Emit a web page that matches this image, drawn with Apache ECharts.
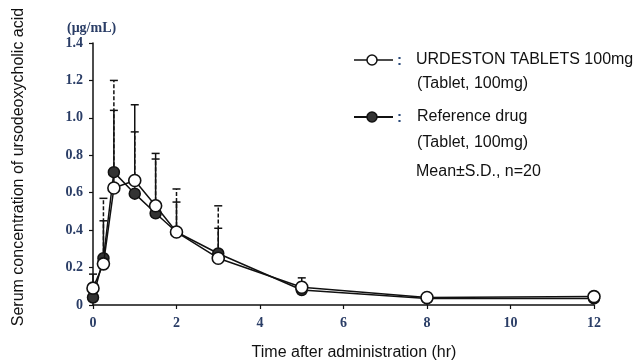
<!DOCTYPE html>
<html><head><meta charset="utf-8">
<script src="https://cdn.jsdelivr.net/npm/echarts@6/dist/echarts.min.js"></script>
<style>html,body{margin:0;padding:0;background:#fff}#c{width:642px;height:364px}</style>
</head><body><div id="c"></div>
<script>
var times = [0, 0.25, 0.5, 1, 1.5, 2, 3, 5, 8, 12];
var testMean = [0.09, 0.22, 0.625, 0.665, 0.53, 0.39, 0.25, 0.095, 0.04, 0.045];
var testUpper = [0.165, 0.45, 1.04, 1.07, 0.81, 0.55, 0.41, 0.145, 0.06, 0.065];
var refMean = [0.04, 0.25, 0.71, 0.595, 0.49, 0.39, 0.275, 0.08, 0.035, 0.035];
var refUpper = [0.06, 0.57, 1.2, 0.925, 0.78, 0.62, 0.53, 0.12, 0.05, 0.05];
var yTicks = [0, 0.2, 0.4, 0.6, 0.8, 1.0, 1.2, 1.4];
var xTicks = [0, 2, 4, 6, 8, 10, 12];
var testName = 'URDESTON TABLETS 100mg';
var refName = 'Reference drug';
var doseNote = '(Tablet, 100mg)';
var statNote = 'Mean\u00b1S.D., n=20';
var unitLabel = '(\u03bcg/mL)';
var yTitle = 'Serum concentration of ursodeoxycholic acid';
var xTitle = 'Time after administration (hr)';

function pairs(a, b) { return a.map(function (v, i) { return [v, b[i]]; }); }
function triples(t, m, u) { return t.map(function (v, i) { return [v, m[i], u[i]]; }); }

var tickColor = '#2a3d66';
var chart = echarts.init(document.getElementById('c'));

function errRender(dashed) {
  return function (params, api) {
    var x = api.value(0);
    var p0 = api.coord([x, api.value(1)]);
    var p1 = api.coord([x, api.value(2)]);
    var style = { stroke: '#111', lineWidth: 1.5 };
    if (dashed) style.lineDash = [4, 2];
    return {
      type: 'group',
      children: [
        { type: 'line', shape: { x1: p0[0], y1: p0[1], x2: p1[0], y2: p1[1] }, style: style },
        { type: 'line', shape: { x1: p1[0] - 4, y1: p1[1], x2: p1[0] + 4, y2: p1[1] }, style: { stroke: '#111', lineWidth: 1.5 } }
      ]
    };
  };
}

var legX = 354, legTextX = 416;
var legFont = '16px "Liberation Sans"';
var option = {
  animation: false,
  backgroundColor: '#fff',
  grid: { left: 93, top: 43, width: 501, height: 262, containLabel: false },
  xAxis: {
    type: 'value', min: 0, max: 12, interval: 2,
    axisLine: { show: true, lineStyle: { color: '#111', width: 1.5 } },
    axisTick: { show: true, inside: false, length: 4, lineStyle: { color: '#111', width: 1.2 } },
    axisLabel: { color: tickColor, fontFamily: 'Liberation Serif', fontWeight: 'bold', fontSize: 14, margin: 11,
      formatter: function (v) { return xTicks.indexOf(v) >= 0 ? String(v) : ''; } },
    splitLine: { show: false }
  },
  yAxis: {
    type: 'value', min: 0, max: 1.4, interval: 0.2,
    axisLine: { show: true, lineStyle: { color: '#111', width: 1.5 } },
    axisTick: { show: true, inside: false, length: 4, lineStyle: { color: '#111', width: 1.2 } },
    axisLabel: { color: tickColor, fontFamily: 'Liberation Serif', fontWeight: 'bold', fontSize: 14, margin: 10,
      formatter: function (v) {
        var r = Math.round(v * 10) / 10;
        return r === 0 ? '0' : r.toFixed(1);
      } },
    splitLine: { show: false }
  },
  series: [
    { type: 'custom', name: 'refErr', renderItem: errRender(true), data: triples(times, refMean, refUpper), z: 1, encode: { x: 0, y: [1, 2] } },
    { type: 'custom', name: 'testErr', renderItem: errRender(false), data: triples(times, testMean, testUpper), z: 1, encode: { x: 0, y: [1, 2] } },
    { type: 'line', name: refName, data: pairs(times, refMean), symbol: 'circle', symbolSize: 11,
      lineStyle: { color: '#111', width: 1.5 }, itemStyle: { color: '#333', borderColor: '#111', borderWidth: 1.5 }, z: 3 },
    { type: 'line', name: testName, data: pairs(times, testMean), symbol: 'circle', symbolSize: 12,
      lineStyle: { color: '#111', width: 1.5 }, itemStyle: { color: '#fff', borderColor: '#111', borderWidth: 1.6 }, z: 4 }
  ],
  graphic: [
    { type: 'text', left: 67, top: 21, style: { text: unitLabel, font: 'bold 14px "Liberation Serif"', fill: tickColor } },
    { type: 'text', x: 19, y: 167, rotation: Math.PI / 2, style: { text: yTitle, font: '16px "Liberation Sans"', fill: '#111', align: 'center', verticalAlign: 'middle' } },
    { type: 'text', x: 354, y: 353, style: { text: xTitle, font: '16px "Liberation Sans"', fill: '#111', align: 'center', verticalAlign: 'middle' } },
    // legend test
    { type: 'line', shape: { x1: legX, y1: 60, x2: legX + 39, y2: 60 }, style: { stroke: '#111', lineWidth: 1.5 } },
    { type: 'circle', shape: { cx: legX + 18, cy: 60, r: 5 }, style: { fill: '#fff', stroke: '#111', lineWidth: 1.5 } },
    { type: 'text', x: 397, y: 61, style: { text: ':', font: 'bold 15px "Liberation Sans"', fill: '#2a4a7a', verticalAlign: 'middle' } },
    { type: 'text', x: legTextX, y: 60, style: { text: testName, font: legFont, fill: '#111', verticalAlign: 'middle' } },
    { type: 'text', x: legTextX + 1, y: 84, style: { text: doseNote, font: legFont, fill: '#111', verticalAlign: 'middle' } },
    // legend ref
    { type: 'line', shape: { x1: legX, y1: 117, x2: legX + 39, y2: 117 }, style: { stroke: '#111', lineWidth: 1.8 } },
    { type: 'circle', shape: { cx: legX + 18, cy: 117, r: 5 }, style: { fill: '#333', stroke: '#111', lineWidth: 1.5 } },
    { type: 'text', x: 397, y: 118, style: { text: ':', font: 'bold 15px "Liberation Sans"', fill: '#2a4a7a', verticalAlign: 'middle' } },
    { type: 'text', x: legTextX + 1, y: 117, style: { text: refName, font: legFont, fill: '#111', verticalAlign: 'middle' } },
    { type: 'text', x: legTextX + 1, y: 143, style: { text: doseNote, font: legFont, fill: '#111', verticalAlign: 'middle' } },
    { type: 'text', x: legTextX, y: 172, style: { text: statNote, font: legFont, fill: '#111', verticalAlign: 'middle' } }
  ]
};
chart.setOption(option);
</script></body></html>
